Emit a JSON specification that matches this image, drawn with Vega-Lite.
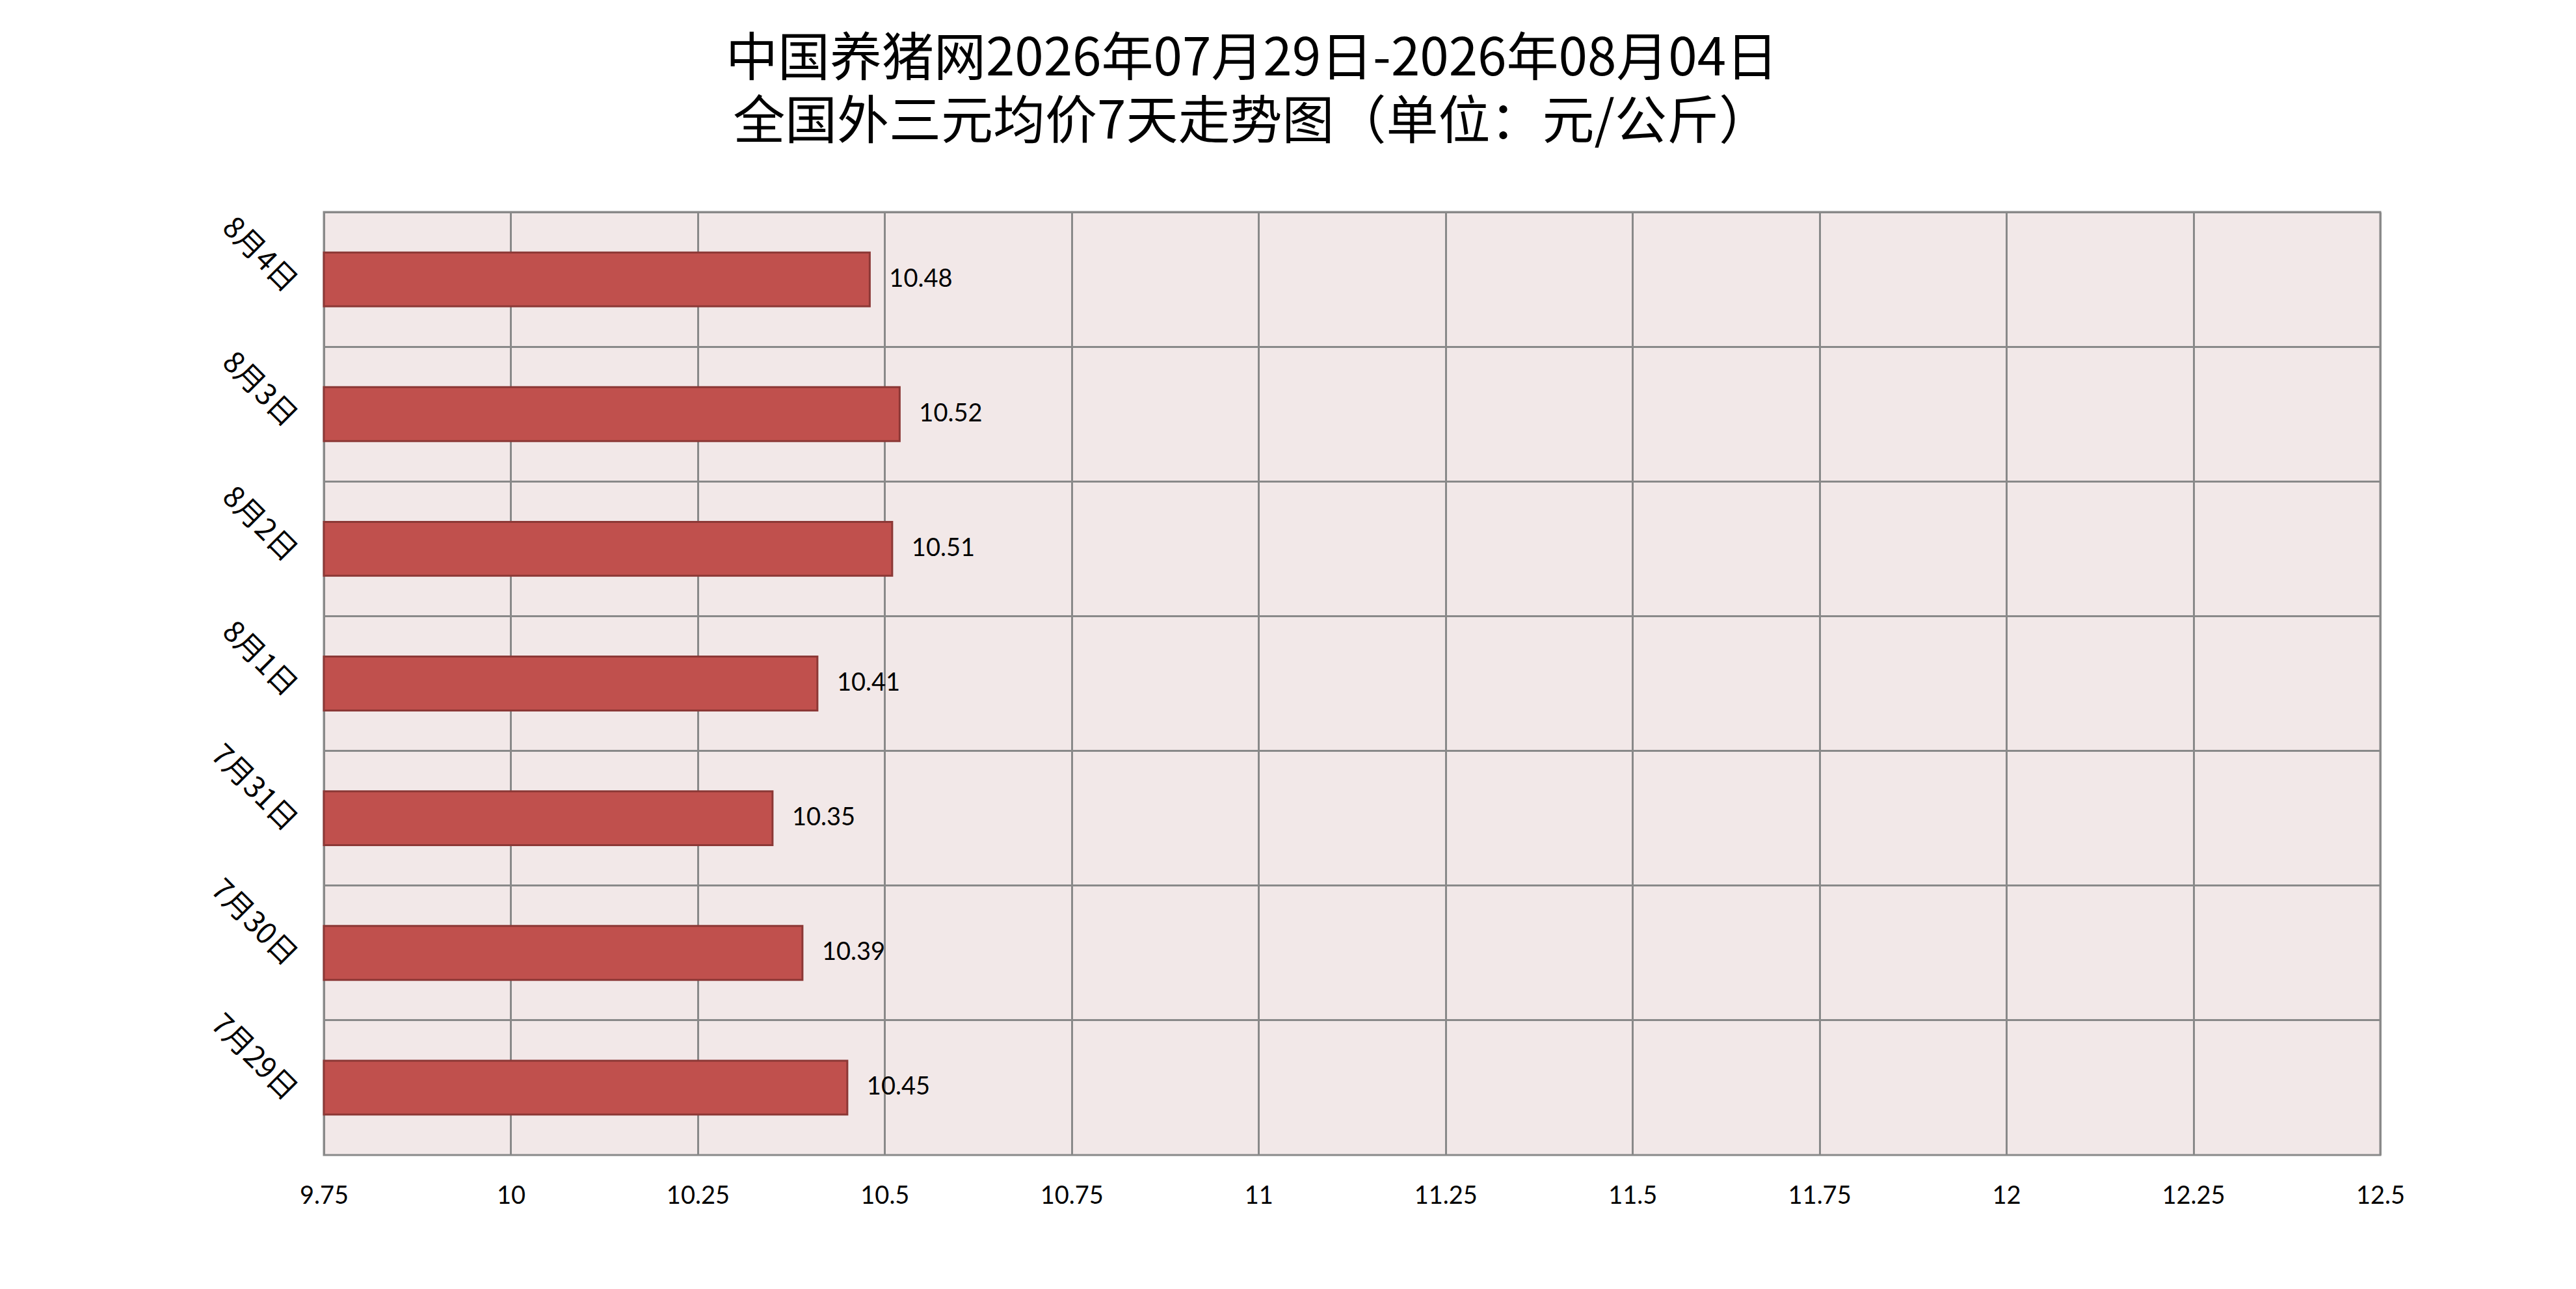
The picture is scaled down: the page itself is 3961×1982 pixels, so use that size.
{
  "$schema": "https://vega.github.io/schema/vega-lite/v6.json",
  "autosize": {"type": "none"},
  "width": 3162,
  "height": 1450,
  "padding": {"left": 498, "top": 326, "right": 301, "bottom": 206},
  "background": "white",
  "title": {
    "text": ["中国养猪网2026年07月29日-2026年08月04日", "全国外三元均价7天走势图（单位：元/公斤）"],
    "font": "Noto Sans CJK SC",
    "fontSize": 80,
    "fontWeight": "normal",
    "color": "black",
    "lineHeight": 97,
    "anchor": "middle",
    "dx": -154,
    "offset": 96
  },
  "data": {
    "values": [
      {"date": "8月4日", "price": 10.48},
      {"date": "8月3日", "price": 10.52},
      {"date": "8月2日", "price": 10.51},
      {"date": "8月1日", "price": 10.41},
      {"date": "7月31日", "price": 10.35},
      {"date": "7月30日", "price": 10.39},
      {"date": "7月29日", "price": 10.45}
    ]
  },
  "encoding": {
    "y": {
      "field": "date",
      "type": "nominal",
      "sort": ["8月4日", "8月3日", "8月2日", "8月1日", "7月31日", "7月30日", "7月29日"],
      "scale": {"paddingInner": 0, "paddingOuter": 0},
      "axis": {
        "title": null,
        "grid": true,
        "gridColor": "#898989",
        "gridWidth": 3,
        "gridOpacity": 1,
        "bandPosition": 0,
        "ticks": false,
        "domain": false,
        "labelAngle": 45,
        "labelAlign": "right",
        "labelBaseline": "middle",
        "labelOffset": 12,
        "labelPadding": 50,
        "labelFont": "Noto Sans CJK SC",
        "labelFontSize": 45,
        "labelColor": "black"
      }
    },
    "x": {
      "field": "price",
      "type": "quantitative",
      "scale": {"domain": [9.75, 12.5], "zero": false, "nice": false},
      "axis": {
        "title": null,
        "values": [9.75, 10, 10.25, 10.5, 10.75, 11, 11.25, 11.5, 11.75, 12, 12.25, 12.5],
        "labelExpr": "'' + datum.value",
        "grid": true,
        "gridColor": "#898989",
        "gridWidth": 3,
        "gridOpacity": 1,
        "ticks": false,
        "domain": false,
        "labelPadding": 44,
        "labelFont": "Lato",
        "labelFontSize": 38,
        "labelColor": "black",
        "labelFlush": false
      }
    }
  },
  "layer": [
    {
      "mark": {"type": "bar", "height": {"band": 0.4}, "fill": "#C0504D", "stroke": "#8C3836", "strokeWidth": 3},
      "encoding": {"x2": {"datum": 9.75}}
    },
    {
      "mark": {"type": "text", "align": "left", "baseline": "middle", "dx": 30, "font": "Lato", "fontSize": 38, "color": "black"},
      "encoding": {"text": {"field": "price", "type": "quantitative", "format": ".2f"}}
    }
  ],
  "config": {
    "view": {"fill": "#F2E8E8", "stroke": "#898989", "strokeWidth": 3}
  }
}
